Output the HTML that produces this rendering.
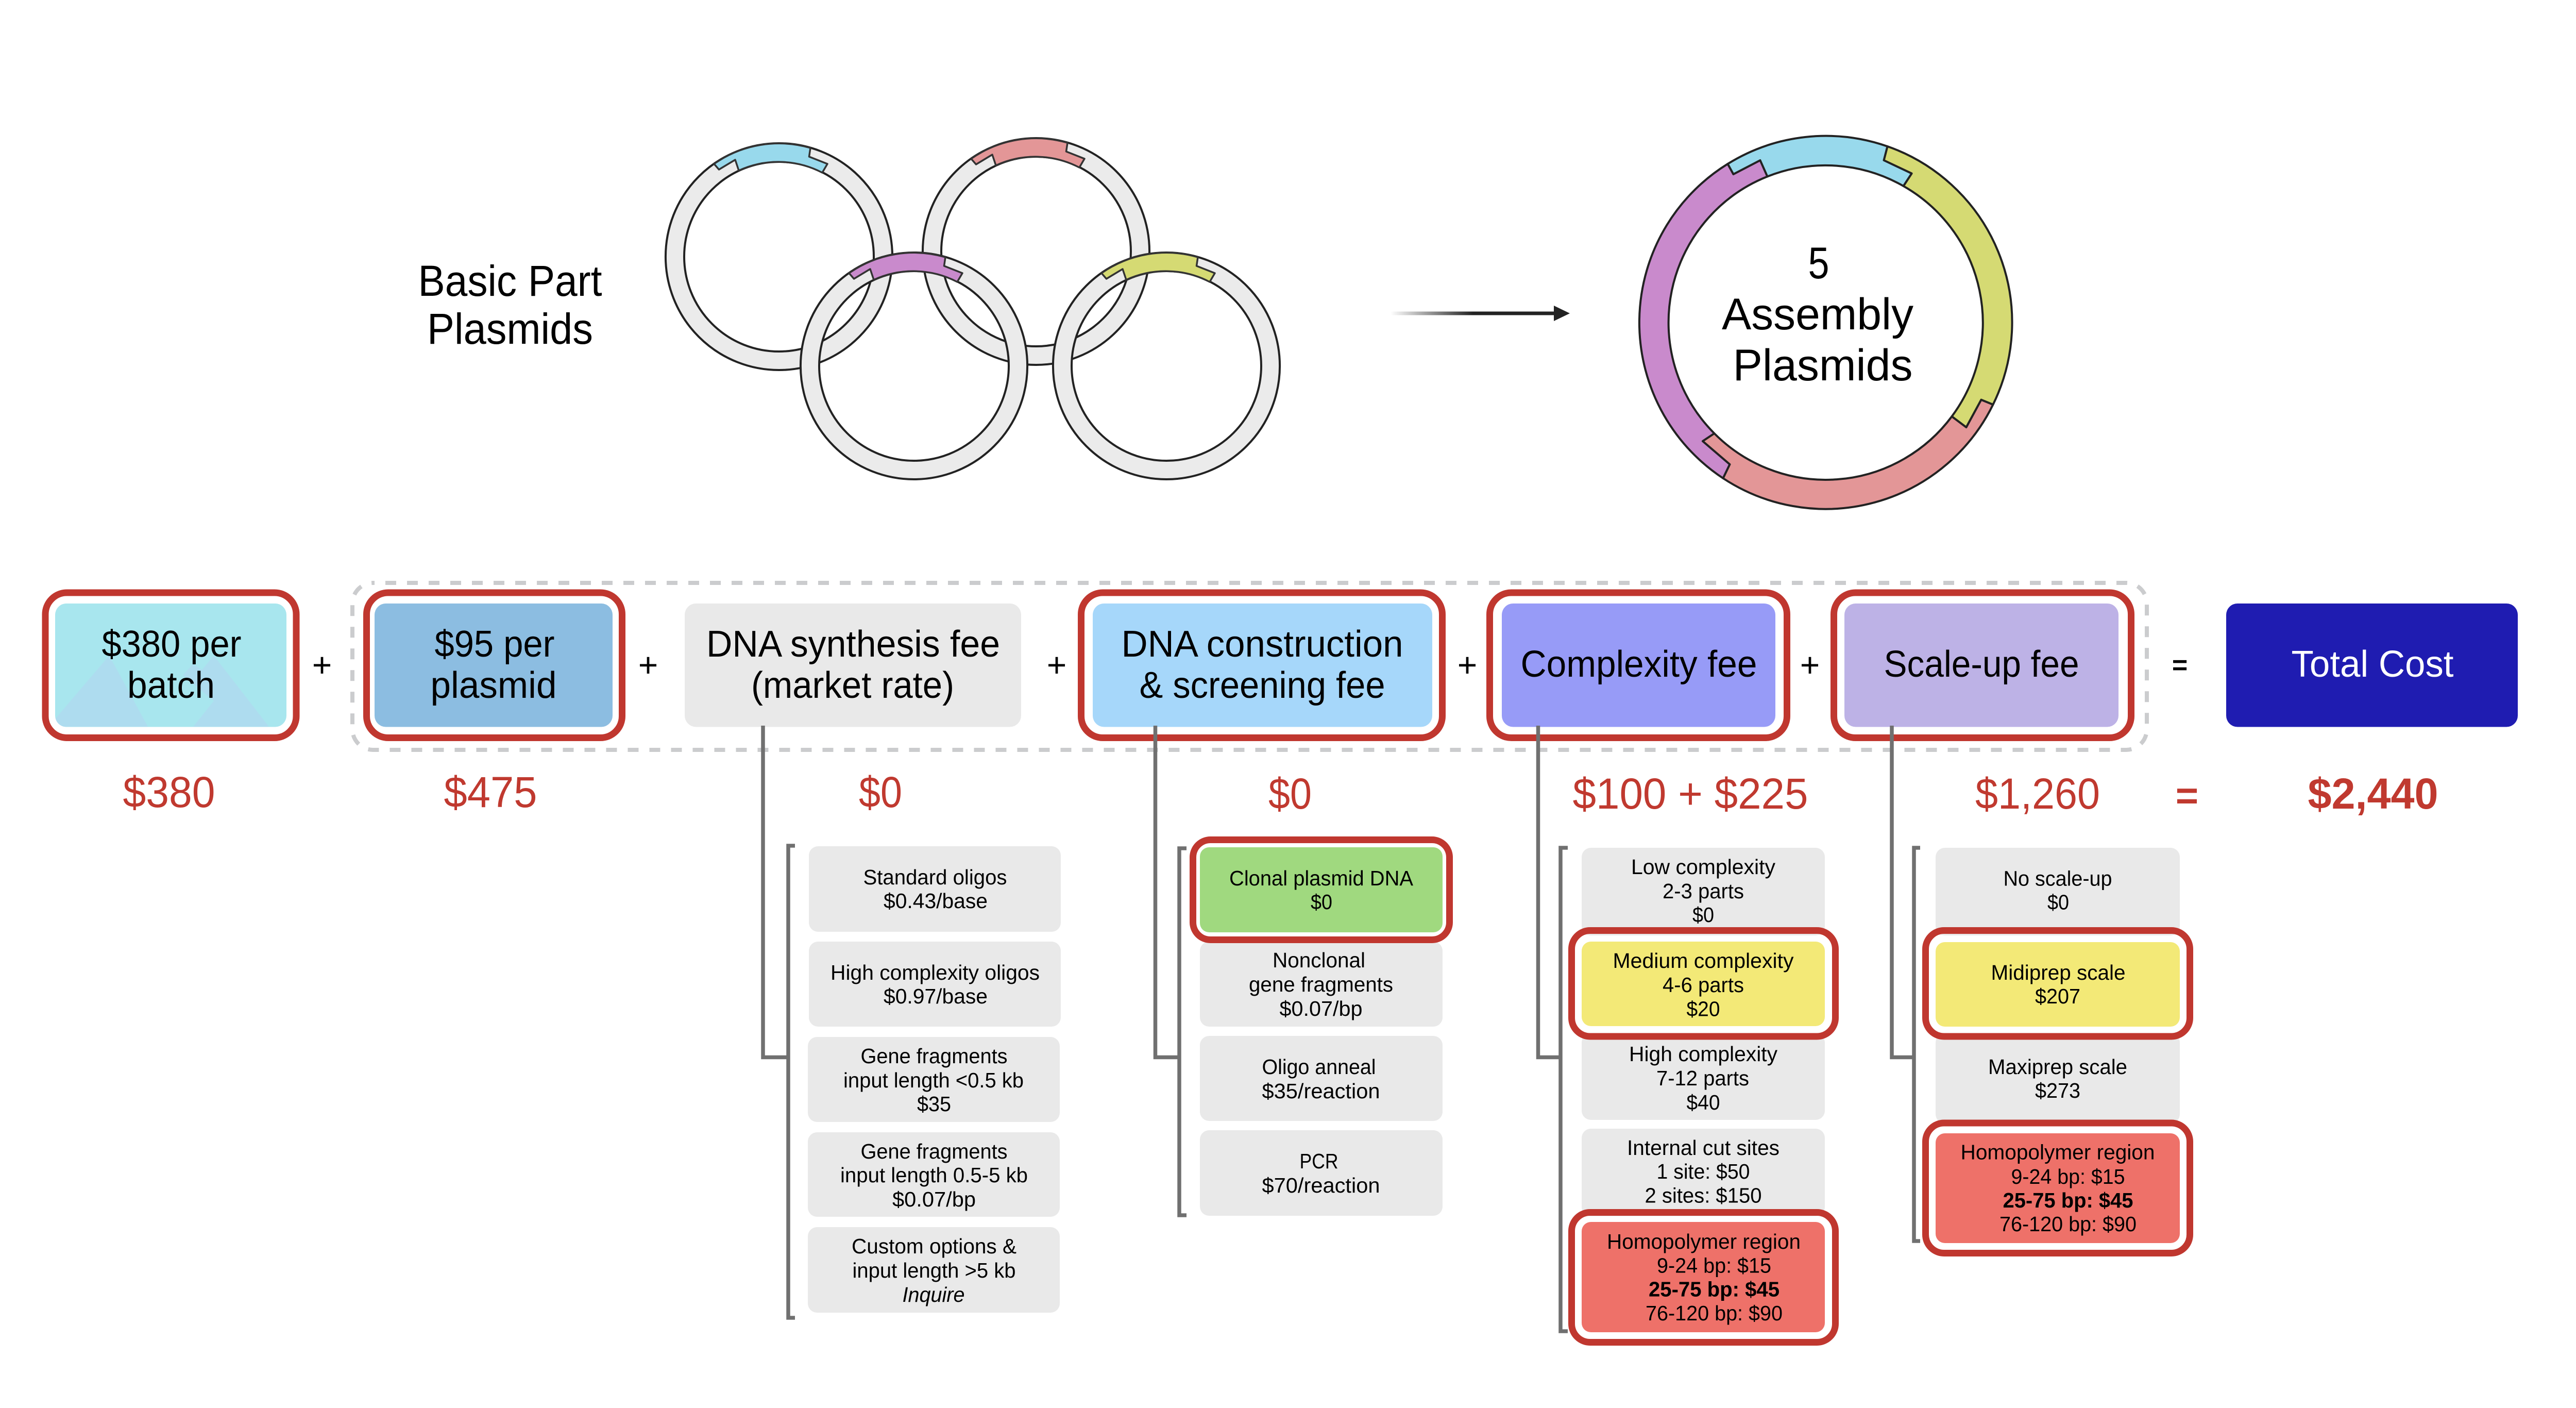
<!DOCTYPE html>
<html><head><meta charset="utf-8"><title>Cost diagram</title>
<style>
html,body{margin:0;padding:0;background:#fff}
svg{display:block}
text{font-family:"Liberation Sans",sans-serif;text-anchor:middle}
.m{font-size:72px;fill:#000}
.s{font-size:41px;fill:#000}
.r{font-size:84px;fill:#c0392f}
.t{font-size:84px;fill:#000}
.b{font-weight:bold}
.ring{fill:#ebebeb;stroke:#222;stroke-width:4;fill-rule:evenodd}
.seg{stroke:#333;stroke-width:3.5;stroke-linejoin:round}
.red{fill:none;stroke:#c0372f;stroke-width:13}
.con{fill:none;stroke:#707070;stroke-width:7.5}
.g{fill:#e9e9e9}
</style></head><body>
<svg xmlns="http://www.w3.org/2000/svg" width="5025" height="2732" viewBox="0 0 5025 2732">
<defs>
<path id="ringp" d="M0,-220A220,220 0 1 1 0,220A220,220 0 1 1 0,-220ZM0,-184A184,184 0 1 0 0,184A184,184 0 1 0 0,-184Z"/>
<path id="segp" d="M-126,-180A220,220 0 0 1 61,-211L58.5,-194L94,-180L84,-163A184,184 0 0 0 -78,-167L-85,-188L-116.5,-169Z"/>
<linearGradient id="arr" x1="0" x2="1" y1="0" y2="0"><stop offset="0" stop-color="#222" stop-opacity="0"/><stop offset=".5" stop-color="#222"/><stop offset="1" stop-color="#222"/></linearGradient>
<clipPath id="c1"><rect x="107" y="1171" width="449" height="239.500" rx="22"/></clipPath>
</defs>

<!-- small plasmids -->
<g transform="translate(1512,498)"><use href="#ringp" class="ring"/><use href="#segp" class="seg" fill="#98d9ec"/></g>
<g transform="translate(2011,488)"><use href="#ringp" class="ring"/><use href="#segp" class="seg" fill="#e39697"/></g>
<g transform="translate(1774,710)"><use href="#ringp" class="ring"/><use href="#segp" class="seg" fill="#c98acc"/></g>
<g transform="translate(2264,710)"><use href="#ringp" class="ring"/><use href="#segp" class="seg" fill="#d5da73"/></g>
<text class="t" x="990" y="574" textLength="357" lengthAdjust="spacingAndGlyphs">Basic Part</text>
<text class="t" x="990" y="667" textLength="322" lengthAdjust="spacingAndGlyphs">Plasmids</text>

<!-- arrow -->
<rect x="2699" y="604.500" width="320" height="7" fill="url(#arr)"/>
<polygon points="3016,593 3047,608 3016,623" fill="#222"/>

<!-- assembly plasmid -->
<g transform="translate(3543.500,626)" stroke="#222" stroke-width="4" stroke-linejoin="round">
<path fill="#c98acc" d="M-199,302A362,362 0 0 1 -190,-308L-179,-288L-127,-315L-113,-283.500A305,305 0 0 0 -216,215L-238.500,230L-186,275Z"/>
<path fill="#e39697" d="M325,159A362,362 0 0 1 -199,302L-186,275L-238.500,230L-216,215A305,305 0 0 0 245,182L273,203L302,149.600Z"/>
<path fill="#d5da73" d="M120,-342A362,362 0 0 1 325,159L302,149.600L273,203L245,182A305,305 0 0 0 151,-265L167,-289.400L113,-315Z"/>
<path fill="#98d9ec" d="M-190,-308A362,362 0 0 1 120,-342L113,-315L167,-289.400L151,-265A305,305 0 0 0 -113,-283.500L-127,-315L-179,-288Z"/>
</g>
<text x="3530" y="540" style="font-size:86px" textLength="41" lengthAdjust="spacingAndGlyphs">5</text>
<text x="3528" y="639" style="font-size:86px" textLength="372" lengthAdjust="spacingAndGlyphs">Assembly</text>
<text x="3538" y="738" style="font-size:86px" textLength="349" lengthAdjust="spacingAndGlyphs">Plasmids</text>

<!-- dashed group -->
<rect x="684" y="1131" width="3483" height="324" rx="40" fill="none" stroke="#cbccce" stroke-width="8" stroke-dasharray="21 21" stroke-dashoffset="18"/>

<!-- main boxes -->
<rect x="107" y="1171" width="449" height="239.500" rx="22" fill="#a8e6ee"/>
<g clip-path="url(#c1)" fill="#aedcef">
<polygon points="212,1272 287,1410 107,1410 107,1395"/>
<polygon points="415,1272 522,1410 375,1410 415,1360 355,1310 375,1288 392,1300"/>
</g>
<rect x="727" y="1171" width="462" height="239.500" rx="22" fill="#8cbde1"/>
<rect x="1329" y="1171" width="653" height="239.500" rx="22" class="g"/>
<rect x="2121" y="1171" width="659" height="239.500" rx="22" fill="#a6d7fa"/>
<rect x="2915" y="1171" width="531" height="239.500" rx="22" fill="#979bf7"/>
<rect x="3580" y="1171" width="532" height="239.500" rx="22" fill="#bdb2e6"/>
<rect x="4321" y="1171" width="566" height="239.500" rx="22" fill="#1f1cb1"/>

<rect class="red" x="88" y="1150" width="487" height="281.500" rx="42"/>
<rect class="red" x="711.500" y="1150" width="496" height="281.500" rx="42"/>
<rect class="red" x="2098.500" y="1150" width="701" height="281.500" rx="42"/>
<rect class="red" x="2891.500" y="1150" width="577" height="281.500" rx="42"/>
<rect class="red" x="3559.500" y="1150" width="577" height="281.500" rx="42"/>

<text class="m" x="333" y="1274" textLength="271" lengthAdjust="spacingAndGlyphs">$380 per</text>
<text class="m" x="332" y="1354" textLength="170" lengthAdjust="spacingAndGlyphs">batch</text>
<text class="m" x="960" y="1274" textLength="233" lengthAdjust="spacingAndGlyphs">$95 per</text>
<text class="m" x="958" y="1354" textLength="245" lengthAdjust="spacingAndGlyphs">plasmid</text>
<text class="m" x="1656" y="1274" textLength="570" lengthAdjust="spacingAndGlyphs">DNA synthesis fee</text>
<text class="m" x="1655" y="1354" textLength="394" lengthAdjust="spacingAndGlyphs">(market rate)</text>
<text class="m" x="2450" y="1274" textLength="547" lengthAdjust="spacingAndGlyphs">DNA construction</text>
<text class="m" x="2450" y="1354" textLength="477" lengthAdjust="spacingAndGlyphs">&amp; screening fee</text>
<text class="m" x="3181" y="1313" textLength="459" lengthAdjust="spacingAndGlyphs">Complexity fee</text>
<text class="m" x="3846" y="1313" textLength="379" lengthAdjust="spacingAndGlyphs">Scale-up fee</text>
<text class="m" x="4605" y="1313" style="fill:#fff" textLength="315" lengthAdjust="spacingAndGlyphs">Total Cost</text>

<g style="font-size:66px" fill="#000">
<text x="625" y="1313">+</text>
<text x="1258" y="1313">+</text>
<text x="2051" y="1313">+</text>
<text x="2848" y="1313">+</text>
<text x="3513" y="1313">+</text>
</g>
<text x="4231" y="1308" class="b" style="font-size:52px" fill="#000">=</text>

<!-- red totals -->
<text class="r" x="328" y="1566" textLength="179" lengthAdjust="spacingAndGlyphs">$380</text>
<text class="r" x="952" y="1566" textLength="181" lengthAdjust="spacingAndGlyphs">$475</text>
<text class="r" x="1709" y="1566" textLength="84" lengthAdjust="spacingAndGlyphs">$0</text>
<text class="r" x="2504" y="1569" textLength="84" lengthAdjust="spacingAndGlyphs">$0</text>
<text class="r" x="3281" y="1569" textLength="457" lengthAdjust="spacingAndGlyphs">$100 + $225</text>
<text class="r" x="3955" y="1569" textLength="242" lengthAdjust="spacingAndGlyphs">$1,260</text>
<text class="r b" x="4245" y="1570" style="font-size:76px">=</text>
<text class="r b" x="4606" y="1569" textLength="253" lengthAdjust="spacingAndGlyphs">$2,440</text>

<!-- column 1 -->
<rect class="g" x="1570" y="1642" width="489" height="166" rx="18"/>
<rect class="g" x="1570" y="1827" width="489" height="165" rx="18"/>
<rect class="g" x="1568" y="2012" width="489" height="165" rx="18"/>
<rect class="g" x="1568" y="2197" width="489" height="164" rx="18"/>
<rect class="g" x="1568" y="2381" width="489" height="166" rx="18"/>
<path class="con" d="M1543,1641H1530V2557H1543"/>
<text class="s" x="1815" y="1716" textLength="279" lengthAdjust="spacingAndGlyphs">Standard oligos</text>
<text class="s" x="1816" y="1762" textLength="202" lengthAdjust="spacingAndGlyphs">$0.43/base</text>
<text class="s" x="1815" y="1901" textLength="406" lengthAdjust="spacingAndGlyphs">High complexity oligos</text>
<text class="s" x="1816" y="1947" textLength="202" lengthAdjust="spacingAndGlyphs">$0.97/base</text>
<text class="s" x="1813" y="2063" textLength="285" lengthAdjust="spacingAndGlyphs">Gene fragments</text>
<text class="s" x="1812" y="2110" textLength="350" lengthAdjust="spacingAndGlyphs">input length &lt;0.5 kb</text>
<text class="s" x="1813" y="2156" textLength="66" lengthAdjust="spacingAndGlyphs">$35</text>
<text class="s" x="1813" y="2248" textLength="285" lengthAdjust="spacingAndGlyphs">Gene fragments</text>
<text class="s" x="1813" y="2294" textLength="364" lengthAdjust="spacingAndGlyphs">input length 0.5-5 kb</text>
<text class="s" x="1813" y="2341" textLength="162" lengthAdjust="spacingAndGlyphs">$0.07/bp</text>
<text class="s" x="1813" y="2432" textLength="320" lengthAdjust="spacingAndGlyphs">Custom options &amp;</text>
<text class="s" x="1813" y="2479" textLength="317" lengthAdjust="spacingAndGlyphs">input length &gt;5 kb</text>
<text class="s" x="1812" y="2526" font-style="italic" textLength="121" lengthAdjust="spacingAndGlyphs">Inquire</text>

<!-- column 2 -->
<rect class="g" x="2329" y="1827" width="471" height="165" rx="18"/>
<rect class="g" x="2329" y="2010" width="471" height="165" rx="18"/>
<rect class="g" x="2329" y="2193" width="471" height="166" rx="18"/>
<path class="con" d="M2303,1646H2289V2358H2303"/>
<rect x="2329" y="1644" width="471" height="165" rx="18" fill="#a0d97f"/>
<rect class="red" x="2315.500" y="1629.500" width="498" height="194" rx="34"/>
<text class="s" x="2564.500" y="1718" textLength="357" lengthAdjust="spacingAndGlyphs">Clonal plasmid DNA</text>
<text class="s" x="2565" y="1764" textLength="42" lengthAdjust="spacingAndGlyphs">$0</text>
<text class="s" x="2560" y="1877" textLength="180" lengthAdjust="spacingAndGlyphs">Nonclonal</text>
<text class="s" x="2564" y="1924" textLength="280" lengthAdjust="spacingAndGlyphs">gene fragments</text>
<text class="s" x="2564" y="1971" textLength="161" lengthAdjust="spacingAndGlyphs">$0.07/bp</text>
<text class="s" x="2560" y="2084" textLength="221" lengthAdjust="spacingAndGlyphs">Oligo anneal</text>
<text class="s" x="2564" y="2131" textLength="229" lengthAdjust="spacingAndGlyphs">$35/reaction</text>
<text class="s" x="2560" y="2267" textLength="75" lengthAdjust="spacingAndGlyphs">PCR</text>
<text class="s" x="2564" y="2314" textLength="229" lengthAdjust="spacingAndGlyphs">$70/reaction</text>

<!-- column 3 -->
<rect class="g" x="3070" y="1645" width="472" height="170" rx="18"/>
<rect class="g" x="3070" y="2005" width="472" height="168" rx="18"/>
<rect class="g" x="3070" y="2190" width="472" height="170" rx="18"/>
<path class="con" d="M3043,1645H3029V2583H3043"/>
<rect x="3070" y="1827" width="472" height="164" rx="18" fill="#f3e977"/>
<rect x="3070" y="2371" width="472" height="214" rx="18" fill="#ee7169"/>
<rect class="red" x="3050.500" y="1805.500" width="512" height="205.500" rx="36"/>
<rect class="red" x="3050.500" y="2352.500" width="512" height="252" rx="36"/>
<text class="s" x="3306" y="1696" textLength="280" lengthAdjust="spacingAndGlyphs">Low complexity</text>
<text class="s" x="3306" y="1743" textLength="158" lengthAdjust="spacingAndGlyphs">2-3 parts</text>
<text class="s" x="3306" y="1789" textLength="42" lengthAdjust="spacingAndGlyphs">$0</text>
<text class="s" x="3306" y="1878" textLength="351" lengthAdjust="spacingAndGlyphs">Medium complexity</text>
<text class="s" x="3306" y="1925" textLength="158" lengthAdjust="spacingAndGlyphs">4-6 parts</text>
<text class="s" x="3306" y="1971.500" textLength="65" lengthAdjust="spacingAndGlyphs">$20</text>
<text class="s" x="3306" y="2059" textLength="288" lengthAdjust="spacingAndGlyphs">High complexity</text>
<text class="s" x="3305" y="2106" textLength="180" lengthAdjust="spacingAndGlyphs">7-12 parts</text>
<text class="s" x="3306" y="2153" textLength="65" lengthAdjust="spacingAndGlyphs">$40</text>
<text class="s" x="3306" y="2241" textLength="296" lengthAdjust="spacingAndGlyphs">Internal cut sites</text>
<text class="s" x="3306" y="2287" textLength="181" lengthAdjust="spacingAndGlyphs">1 site: $50</text>
<text class="s" x="3306" y="2333.500" textLength="227" lengthAdjust="spacingAndGlyphs">2 sites: $150</text>
<text class="s" x="3307" y="2423" textLength="376" lengthAdjust="spacingAndGlyphs">Homopolymer region</text>
<text class="s" x="3327" y="2469.500" textLength="222" lengthAdjust="spacingAndGlyphs">9-24 bp: $15</text>
<text class="s b" x="3327" y="2515.500" textLength="254" lengthAdjust="spacingAndGlyphs">25-75 bp: $45</text>
<text class="s" x="3327" y="2562" textLength="266" lengthAdjust="spacingAndGlyphs">76-120 bp: $90</text>

<!-- column 4 -->
<rect class="g" x="3757" y="1645" width="474" height="170" rx="18"/>
<rect class="g" x="3757" y="2005" width="474" height="175" rx="18"/>
<path class="con" d="M3727,1645H3715V2408H3727"/>
<rect x="3757" y="1828" width="474" height="164" rx="18" fill="#f3e977"/>
<rect x="3757" y="2199" width="474" height="213" rx="18" fill="#ee7169"/>
<rect class="red" x="3737.500" y="1805.500" width="513" height="205.500" rx="36"/>
<rect class="red" x="3737.500" y="2179" width="513" height="252.500" rx="36"/>
<text class="s" x="3994" y="1718.500" textLength="211" lengthAdjust="spacingAndGlyphs">No scale-up</text>
<text class="s" x="3995" y="1764.500" textLength="42" lengthAdjust="spacingAndGlyphs">$0</text>
<text class="s" x="3995" y="1901" textLength="261" lengthAdjust="spacingAndGlyphs">Midiprep scale</text>
<text class="s" x="3994" y="1947" textLength="88" lengthAdjust="spacingAndGlyphs">$207</text>
<text class="s" x="3994" y="2084" textLength="270" lengthAdjust="spacingAndGlyphs">Maxiprep scale</text>
<text class="s" x="3994" y="2130" textLength="88" lengthAdjust="spacingAndGlyphs">$273</text>
<text class="s" x="3994" y="2249.500" textLength="377" lengthAdjust="spacingAndGlyphs">Homopolymer region</text>
<text class="s" x="4014" y="2297" textLength="221" lengthAdjust="spacingAndGlyphs">9-24 bp: $15</text>
<text class="s b" x="4014" y="2343" textLength="253" lengthAdjust="spacingAndGlyphs">25-75 bp: $45</text>
<text class="s" x="4014" y="2389" textLength="266" lengthAdjust="spacingAndGlyphs">76-120 bp: $90</text>

<!-- connectors -->
<path class="con" d="M1481,1408V2051.500H1530"/>
<path class="con" d="M2242.500,1408V2051.500H2289"/>
<path class="con" d="M2985.500,1408V2051.500H3029"/>
<path class="con" d="M3672,1408V2051.500H3715"/>
</svg>
</body></html>
